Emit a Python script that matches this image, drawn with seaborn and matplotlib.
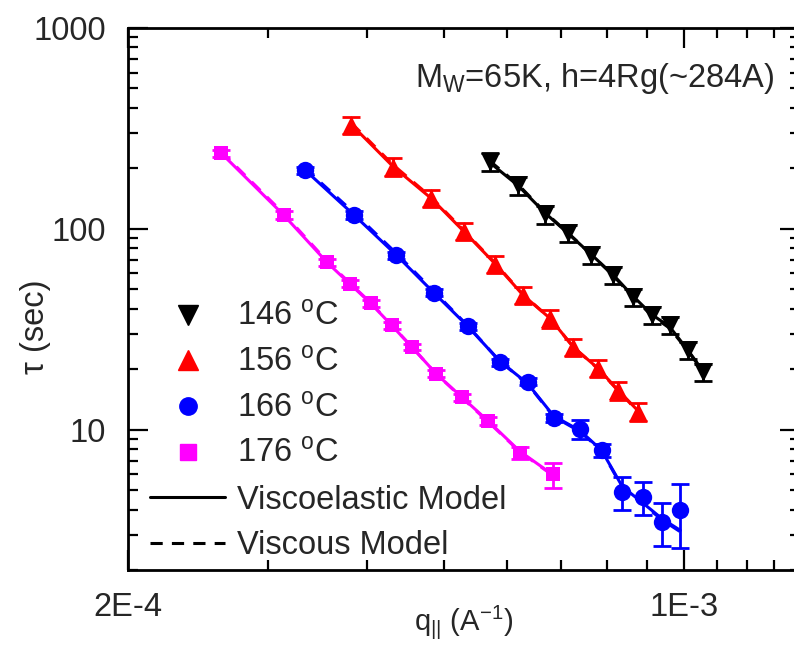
import matplotlib
matplotlib.use("Agg")
import matplotlib.pyplot as plt
import numpy as np
import pandas as pd
import seaborn as sns
from matplotlib.lines import Line2D
from matplotlib.ticker import FixedLocator, FixedFormatter, NullFormatter

# ---- data -------------------------------------------------------------
temps = ["146", "156", "166", "176"]
colors = ["#000000", "#FF0000", "#0000FF", "#FF00FF"]
markers = ["v", "^", "o", "s"]
marker_sizes = [13.5, 13.5, 12.5, 10.5]

q146 = [5.70e-4, 6.19e-4, 6.69e-4, 7.15e-4, 7.65e-4, 8.15e-4, 8.62e-4, 9.11e-4, 9.60e-4, 1.011e-3, 1.057e-3]
tau146 = [216, 165, 118, 95, 74, 58.8, 45.8, 37.2, 33.1, 24.9, 19.4]
err146 = [22, 17, 12, 9.5, 7.4, 5.9, 4.6, 3.7, 3.3, 2.5, 1.9]
ve146 = [214, 164, 120, 95, 74.5, 59, 46.5, 37.5, 32.5, 25, 19.6]
vs146 = [218, 166, 121, 95.5, 74.5, 58.5, 46, 37, 32, 24.8, 19.5]

q156 = [3.82e-4, 4.31e-4, 4.81e-4, 5.29e-4, 5.79e-4, 6.28e-4, 6.79e-4, 7.26e-4, 7.80e-4, 8.27e-4, 8.76e-4]
tau156 = [329, 204, 142, 97.4, 66.7, 46.7, 35.8, 25.8, 20.2, 15.7, 12.3]
err156 = [33, 20, 14, 9.7, 6.7, 4.7, 3.6, 2.6, 2.0, 1.6, 1.2]
ve156 = [330, 204, 142, 97, 67, 46.7, 35.8, 25.8, 20.2, 15.7, 12.4]
vs156 = [336, 208, 144, 98, 67.5, 47, 35.8, 25.8, 20.1, 15.6, 12.3]

q166 = [3.34e-4, 3.85e-4, 4.35e-4, 4.85e-4, 5.35e-4, 5.87e-4, 6.36e-4, 6.86e-4, 7.40e-4, 7.88e-4, 8.37e-4, 8.89e-4, 9.39e-4, 9.90e-4]
tau166 = [196, 117, 73.9, 48.1, 32.7, 21.7, 17.3, 11.4, 10.1, 7.9, 4.89, 4.62, 3.47, 3.97]
err166 = [8, 5, 3, 2, 1.3, 0.9, 0.7, 0.5, 1.1, 0.6, 0.9, 0.85, 0.85, 1.4]
ve166 = [196, 117, 74, 48, 32.7, 21.9, 17.0, 11.7, 9.9, 7.9, 5.2, 4.3, 3.6, 3.15]
vs166 = [200, 120, 75.5, 48.8, 32.9, 21.9, 16.9, 11.6, 9.8, 7.85, 5.15, 4.25, 3.55, 3.1]

q176 = [2.62e-4, 3.14e-4, 3.56e-4, 3.80e-4, 4.04e-4, 4.29e-4, 4.55e-4, 4.88e-4, 5.26e-4, 5.68e-4, 6.22e-4, 6.85e-4]
tau176 = [238, 117, 68.1, 53.3, 42.5, 33.1, 25.8, 19.0, 14.5, 11.0, 7.67, 6.0]
err176 = [10, 5, 2.7, 2.1, 1.7, 1.3, 1.0, 0.8, 0.6, 0.5, 0.5, 0.85]
ve176 = [238, 117, 68, 53.3, 42.5, 33.1, 25.8, 19.0, 14.5, 11.0, 7.8, 5.95]
vs176 = [242, 119, 69, 53.8, 42.8, 33.2, 25.8, 19.0, 14.4, 10.9, 7.75, 5.9]

x_ticks = [2e-4, 1e-3]
x_ticklabels = ["2E-4", "1E-3"]
x_minor = [3e-4, 4e-4, 5e-4, 6e-4, 7e-4, 8e-4, 9e-4, 1.1e-3, 1.2e-3, 1.3e-3]
y_ticks = [10, 100, 1000]
y_ticklabels = ["10", "100", "1000"]

series = [
    (q146, tau146, err146, ve146, vs146),
    (q156, tau156, err156, ve156, vs156),
    (q166, tau166, err166, ve166, vs166),
    (q176, tau176, err176, ve176, vs176),
]

# ---- tidy tables ------------------------------------------------------
rows, model_rows = [], []
for t, (q, tau, err, ve, vs) in zip(temps, series):
    for qi, ti, ei in zip(q, tau, err):
        rows.append({"q": qi, "tau": ti, "err": ei, "T": t})
    for qi, v in zip(q, ve):
        model_rows.append({"q": qi, "tau": v, "T": t, "model": "Viscoelastic"})
    for qi, v in zip(q, vs):
        model_rows.append({"q": qi, "tau": v, "T": t, "model": "Viscous"})
df = pd.DataFrame(rows)
models = pd.DataFrame(model_rows)

# ---- style --------------------------------------------------------------
sns.set_theme(style="ticks")
plt.rcParams["font.family"] = ["Liberation Sans", "DejaVu Sans"]
plt.rcParams["mathtext.fontset"] = "custom"
plt.rcParams["mathtext.rm"] = "Liberation Sans"
plt.rcParams["mathtext.it"] = "Liberation Sans:italic"
plt.rcParams["mathtext.bf"] = "Liberation Sans:bold"
FS = 23.5

fig = plt.figure(figsize=(7.94, 6.45), dpi=100)
W, H = 794, 645
ax = fig.add_axes([128 / W, (H - 570) / H, 672 / W, 542 / H])
ax.set_xscale("log")
ax.set_yscale("log")

palette = dict(zip(temps, colors))

# model curves: viscous (dashed) under viscoelastic (solid)
sns.lineplot(data=models[models.model == "Viscous"], x="q", y="tau", hue="T",
             palette=palette, estimator=None, sort=False, legend=False,
             linewidth=2.2, dashes=False, ax=ax, linestyle=(0, (4, 3)))
sns.lineplot(data=models[models.model == "Viscoelastic"], x="q", y="tau", hue="T",
             palette=palette, estimator=None, sort=False, legend=False,
             linewidth=2.2, ax=ax)

# measured relaxation times with error bars
for t, c, m, ms in zip(temps, colors, markers, marker_sizes):
    sub = df[df["T"] == t]
    ax.errorbar(sub["q"], sub["tau"], yerr=sub["err"], fmt="none", ecolor=c,
                elinewidth=2, capsize=6.5, capthick=2, zorder=3)
    sns.scatterplot(data=sub, x="q", y="tau", marker=m, color=c, s=ms ** 2,
                    linewidth=0, legend=False, ax=ax, zorder=4)

# ---- axes -----------------------------------------------------------------
ax.set_xlim(2e-4, 1.4e-3)
ax.set_ylim(2, 1000)
ax.xaxis.set_major_locator(FixedLocator(x_ticks))
ax.xaxis.set_major_formatter(FixedFormatter(x_ticklabels))
ax.xaxis.set_minor_locator(FixedLocator(x_minor))
ax.xaxis.set_minor_formatter(NullFormatter())
ax.yaxis.set_major_locator(FixedLocator(y_ticks))
ax.yaxis.set_major_formatter(FixedFormatter(y_ticklabels))
y_minor = [m * d for d in (1, 10, 100) for m in range(2, 10)]
ax.yaxis.set_minor_locator(FixedLocator(y_minor))
ax.yaxis.set_minor_formatter(NullFormatter())

for s in ax.spines.values():
    s.set_linewidth(2)
    s.set_color("black")
ax.tick_params(which="both", direction="in", top=True, right=True,
               width=1.6, color="black", labelsize=FS, pad=16)
ax.tick_params(which="major", length=14.5)
ax.tick_params(which="minor", length=7)
ax.grid(False)
ax.set_facecolor("white")

ax.set_xlabel(r"q$_{||}$ (A$^{-1}$)", fontsize=21)
ax.xaxis.set_label_coords(0.5, -0.096)
ax.xaxis.label.set_va("center")
ax.set_ylabel("τ (sec)", fontsize=FS)
ax.yaxis.set_label_coords(-0.138, 0.448)
ax.yaxis.label.set_va("center")

fig.text(415 / W, 1 - 87 / H, r"M$_\mathrm{W}$=65K, h=4Rg(~284A)",
         fontsize=FS, va="baseline", ha="left")

# ---- legend ---------------------------------------------------------------
handles = [Line2D([], [], linestyle="none", marker=m, color=c, markersize=ms)
           for m, c, ms in zip(markers, colors, [14.5, 14.5, 12.5, 11])]
labels = [t + r" $^\mathrm{o}$C" for t in temps]
handles += [Line2D([], [], color="black", linewidth=2.2),
            Line2D([], [], color="black", linewidth=2.2, linestyle=(0, (4, 3)))]
labels += ["Viscoelastic Model", "Viscous Model"]
leg = ax.legend(handles, labels, loc="upper left", frameon=False, fontsize=FS,
                handlelength=2.3, handletextpad=0.36, labelspacing=0.45,
                borderpad=0, borderaxespad=0,
                bbox_to_anchor=(150 / W, 1 - 302 / H),
                bbox_transform=fig.transFigure)

fig.savefig("out.png", dpi=100)
